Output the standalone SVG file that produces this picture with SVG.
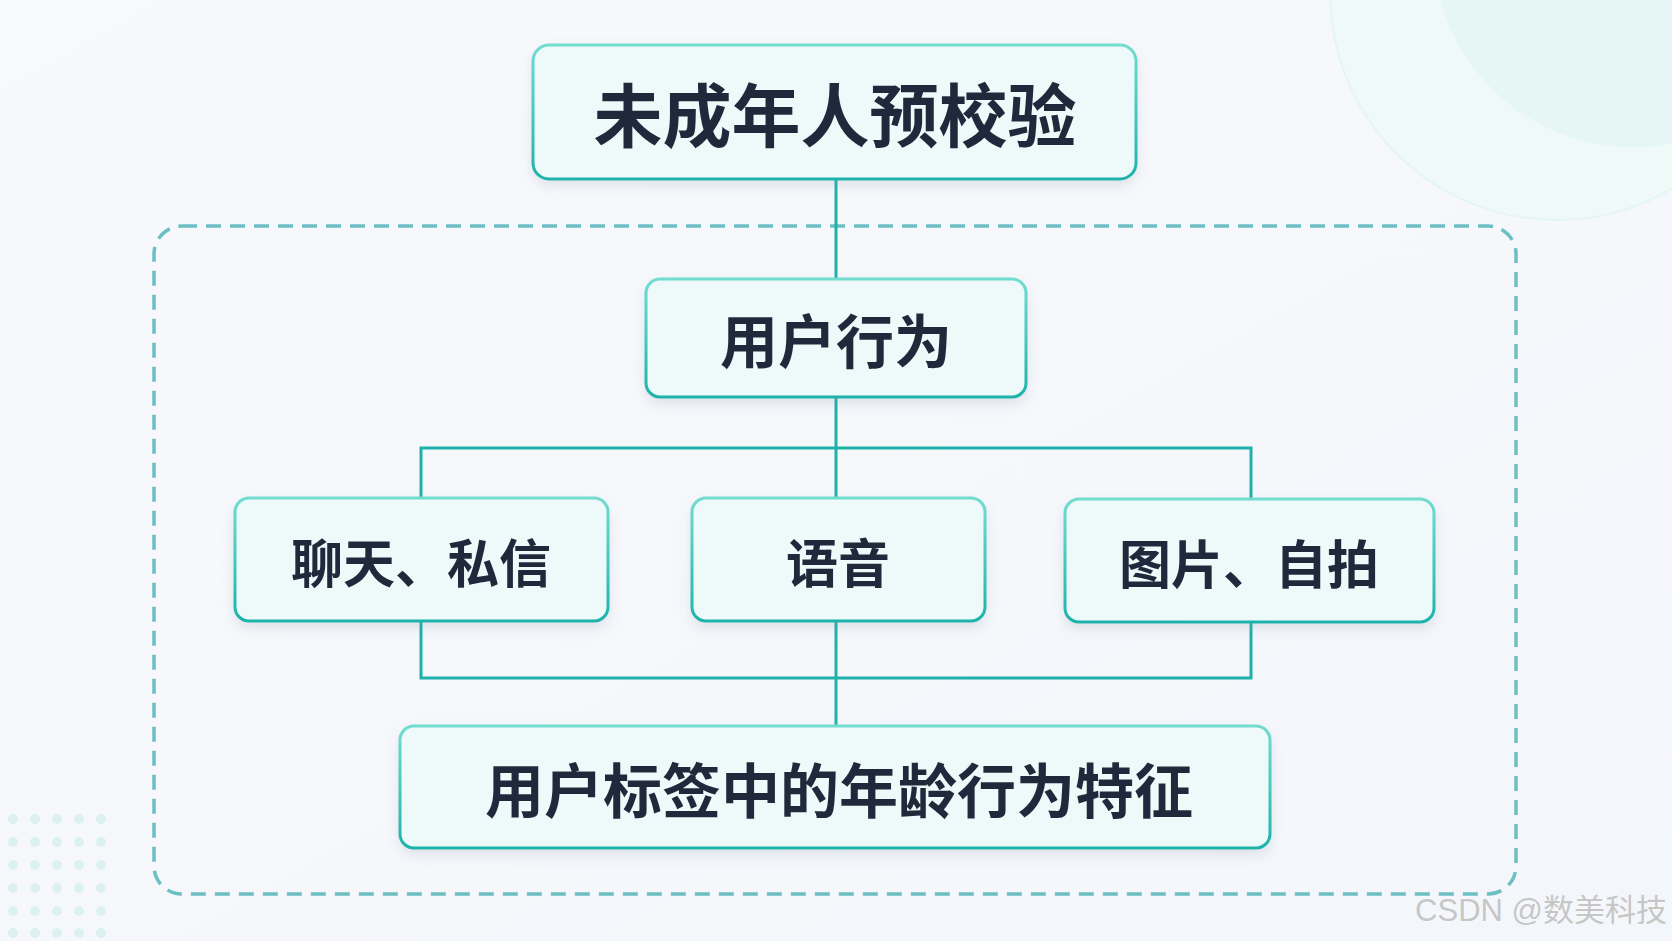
<svg xmlns="http://www.w3.org/2000/svg" width="1672" height="941" viewBox="0 0 1672 941">
<defs>
<linearGradient id="bg" x1="0" y1="0" x2="1" y2="1">
<stop offset="0" stop-color="#f8f9fd"/>
<stop offset="1" stop-color="#f3f6fa"/>
</linearGradient>
<linearGradient id="nodeStroke" x1="0" y1="0" x2="0" y2="1">
<stop offset="0" stop-color="#72dccf"/>
<stop offset="1" stop-color="#1db3ab"/>
</linearGradient>
<filter id="shadow" x="-10%" y="-20%" width="120%" height="150%">
<feDropShadow dx="0" dy="6" stdDeviation="6" flood-color="#7a8a9a" flood-opacity="0.18"/>
</filter>
<style>
.node rect{fill:#eef9f9;stroke:url(#nodeStroke);stroke-width:3;filter:url(#shadow)}
.node text{font-family:"Noto Sans CJK SC","Noto Sans",sans-serif;font-weight:700;fill:#1e2a3b;text-anchor:middle;dominant-baseline:central}
.conn{fill:none;stroke:#1eb1a9;stroke-width:3}
.dot{fill:#dcf1f1}
</style>
</defs>
<rect width="1672" height="941" fill="url(#bg)"/>
<g id="decor">
<circle cx="1557" cy="-7" r="227" fill="#eef9f8" stroke="#e4f5f4" stroke-width="2"/>
<circle cx="1633" cy="-53" r="200" fill="#e5f6f5"/>
<g>
<circle class="dot" cx="13" cy="819" r="5"/><circle class="dot" cx="35" cy="819" r="5"/><circle class="dot" cx="57" cy="819" r="5"/><circle class="dot" cx="79" cy="819" r="5"/><circle class="dot" cx="101" cy="819" r="5"/>
<circle class="dot" cx="13" cy="842" r="5"/><circle class="dot" cx="35" cy="842" r="5"/><circle class="dot" cx="57" cy="842" r="5"/><circle class="dot" cx="79" cy="842" r="5"/><circle class="dot" cx="101" cy="842" r="5"/>
<circle class="dot" cx="13" cy="865" r="5"/><circle class="dot" cx="35" cy="865" r="5"/><circle class="dot" cx="57" cy="865" r="5"/><circle class="dot" cx="79" cy="865" r="5"/><circle class="dot" cx="101" cy="865" r="5"/>
<circle class="dot" cx="13" cy="888" r="5"/><circle class="dot" cx="35" cy="888" r="5"/><circle class="dot" cx="57" cy="888" r="5"/><circle class="dot" cx="79" cy="888" r="5"/><circle class="dot" cx="101" cy="888" r="5"/>
<circle class="dot" cx="13" cy="911" r="5"/><circle class="dot" cx="35" cy="911" r="5"/><circle class="dot" cx="57" cy="911" r="5"/><circle class="dot" cx="79" cy="911" r="5"/><circle class="dot" cx="101" cy="911" r="5"/>
<circle class="dot" cx="13" cy="933" r="5"/><circle class="dot" cx="35" cy="933" r="5"/><circle class="dot" cx="57" cy="933" r="5"/><circle class="dot" cx="79" cy="933" r="5"/><circle class="dot" cx="101" cy="933" r="5"/>
</g>
</g>
<rect id="container" x="154" y="226" width="1362" height="668" rx="28" fill="none" stroke="#6cbfc2" stroke-width="3.5" stroke-dasharray="15 9"/>
<g id="connectors">
<path class="conn" d="M836 179 V279"/>
<path class="conn" d="M836 397 V448 M421 498 V448 H1251 V499 M836 448 V498"/>
<path class="conn" d="M421 621 V678 H1251 V622 M836 621 V726"/>
</g>
<g id="n_top" class="node">
<rect x="533" y="45" width="603" height="134" rx="16"/>
<text x="835" y="112" font-size="69">未成年人预校验</text>
</g>
<g id="n_behavior" class="node">
<rect x="646" y="279" width="380" height="118" rx="14"/>
<text x="836" y="338" font-size="58">用户行为</text>
</g>
<g id="n_chat" class="node">
<rect x="235" y="498" width="373" height="123" rx="14"/>
<text x="421" y="560" font-size="52">聊天、私信</text>
</g>
<g id="n_voice" class="node">
<rect x="692" y="498" width="293" height="123" rx="14"/>
<text x="838" y="560" font-size="52">语音</text>
</g>
<g id="n_image" class="node">
<rect x="1065" y="499" width="369" height="123" rx="14"/>
<text x="1249" y="561" font-size="52">图片、自拍</text>
</g>
<g id="n_tag" class="node">
<rect x="400" y="726" width="870" height="122" rx="14"/>
<text x="839" y="787" font-size="59">用户标签中的年龄行为特征</text>
</g>
<text x="1667" y="921" text-anchor="end" font-family="'Liberation Sans','Noto Sans CJK SC',sans-serif" font-size="31" fill="#c6c6c6" stroke="#ffffff" stroke-width="0.6" paint-order="stroke">CSDN @数美科技</text>
</svg>
